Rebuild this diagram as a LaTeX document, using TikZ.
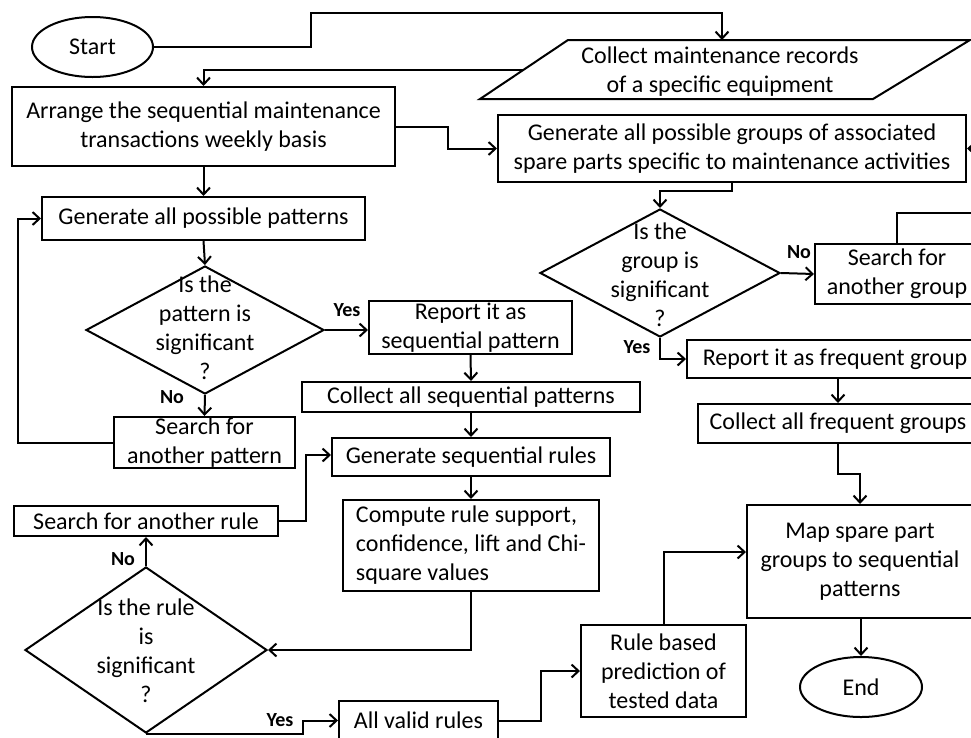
\documentclass[tikz,border=0pt]{standalone}
\usepackage{fontspec}
\setmainfont{Carlito}
\usetikzlibrary{shapes.geometric,arrows.meta}

\def\recordshape{(480,99) -- (568,40) -- (970,40) -- (873,99) -- cycle}
\colorlet{flow line}{black}
\tikzset{base/.style={line width=2pt, font=\fontsize{24}{29}\selectfont, align=center, inner sep=0pt},
    process/.style={base, draw=flow line, rectangle},
    terminal/.style={base, draw=flow line, ellipse},
    decision/.style={base, draw=flow line, diamond},
    qtext/.style={base},
    answer/.style={font=\bfseries\fontsize{20}{24}\selectfont, inner sep=0pt},
    outline/.style={draw=flow line, line width=2pt},
    flow/.style={draw=flow line, line width=2pt, -{Straight Barb[length=7pt,width=13pt]}}}

\begin{document}
\begin{tikzpicture}[x=1pt, y=-1pt]
    \path[use as bounding box, fill=white] (0,0) rectangle (971,737);
    % left column
    \node[terminal, minimum width=121, minimum height=60] (start) at (92.5,47) {Start};
    \node[process, minimum width=383, minimum height=79] (arr) at (203.5,126.5) {Arrange the sequential maintenance\\transactions weekly basis};
    \node[process, minimum width=323, minimum height=43] (gpat) at (203.5,218.5) {Generate all possible patterns};
    \node[decision, minimum width=238, minimum height=128] (q1) at (205,330) {};
    \node[qtext] (q1t) at (205,328) {Is the\\pattern is\\significant\\?};
    \node[process, minimum width=181, minimum height=51] (spat) at (204.5,442.5) {Search for\\another pattern};
    \node[process, minimum width=264, minimum height=30] (srule) at (146,521) {Search for another rule};
    \node[decision, minimum width=242, minimum height=166] (q2) at (146,650) {};
    \node[qtext] (q2t) at (146,651) {Is the rule\\is\\significant\\?};
    % middle column
    \node[process, minimum width=203, minimum height=53] (rep) at (470.5,327.5) {Report it as\\sequential pattern};
    \node[process, minimum width=338, minimum height=30] (colp) at (471,397) {Collect all sequential patterns};
    \node[process, minimum width=278, minimum height=38] (grule) at (471,457) {Generate sequential rules};
    \node[process, minimum width=256, minimum height=91, align=left] (comp) at (471,545.5) {Compute rule support,\\confidence, lift and Chi-\\square values};
    \node[process, minimum width=159, minimum height=39] (valid) at (418.5,720.5) {All valid rules};
    \node[process, minimum width=165, minimum height=92] (rbp) at (663.5,671) {Rule based\\prediction of\\tested data};
    % right column
    \draw[outline] \recordshape;
    \node[qtext, minimum height=63] (rec) at (720,71.5) {Collect maintenance records\\of a specific equipment};
    \coordinate (recL) at (524,69.5);
    \node[process, minimum width=468, minimum height=67] (grp) at (732,148.5) {Generate all possible groups of associated\\spare parts specific to maintenance activities};
    \node[decision, minimum width=240, minimum height=128] (q3) at (660,273) {};
    \node[qtext] (q3t) at (660,275) {Is the\\group is\\significant\\?};
    \node[process, minimum width=164, minimum height=60] (sgrp) at (897,274) {Search for\\another group};
    \node[process, minimum width=296, minimum height=38] (fgrp) at (835,359) {Report it as frequent group};
    \node[process, minimum width=280, minimum height=39] (cfg) at (838,423.5) {Collect all frequent groups};
    \node[process, minimum width=226, minimum height=113] (map) at (860,561.5) {Map spare part\\groups to sequential\\patterns};
    \node[terminal, minimum width=122, minimum height=60] (end) at (861,687) {End};
    % yes / no
    \node[answer] (y1) at (347,310) {Yes};
    \node[answer] (n1) at (172,397) {No};
    \node[answer] (n2) at (123,559) {No};
    \node[answer] (y2) at (280,720) {Yes};
    \node[answer] (n3) at (799,252) {No};
    \node[answer] (y3) at (637,347) {Yes};
    % connectors
    \draw[flow] (start.east) -- (311,47) |- (722,13) -- (722,40);
    \draw[flow] (recL) -| (arr.north);
    \draw[flow] (arr.east) -- ++(52,0) |- (grp.west);
    \draw[flow] (arr.south) -- (gpat.north);
    \draw[flow] (gpat.south) -- (q1.north);
    \draw[flow] (q1.east) -- (q1.east -| rep.west);
    \draw[flow] (q1.south) -- (spat.north);
    \draw[flow] (spat.west) -- (18,442.5) |- (gpat.west);
    \draw[flow] (rep.south) -- (colp.north);
    \draw[flow] (colp.south) -- (grule.north);
    \draw[flow] (srule.east) -- ++(27,0) |- ([yshift=2pt]grule.west);
    \draw[flow] (grule.south) -- (comp.north);
    \draw[flow] (comp.south) |- (q2.east);
    \draw[flow] (q2.north) -- (srule.south -| q2.north);
    \draw[flow] (q2.south) -- ++(157,0) |- (valid.west);
    \draw[flow] (valid.east) -- ++(42,0) |- (rbp.west);
    \draw[flow] (rbp.north) |- ([yshift=9.5pt]map.west);
    \draw[flow] (grp.south) -- ++(0,8) -| (q3.north);
    \draw[flow] (q3.east) -- (sgrp.west);
    \draw[flow] (q3.south) |- (fgrp.west);
    \draw[flow] (sgrp.north) |- (990,213) |- (grp.east);
    \draw[flow] (cfg.north |- fgrp.south) -- (cfg.north);
    \draw[flow] (cfg.south) -- ++(0,30) -| (map.north);
    \draw[flow] (map.south -| end.north) -- (end.north);
\end{tikzpicture}
\end{document}
